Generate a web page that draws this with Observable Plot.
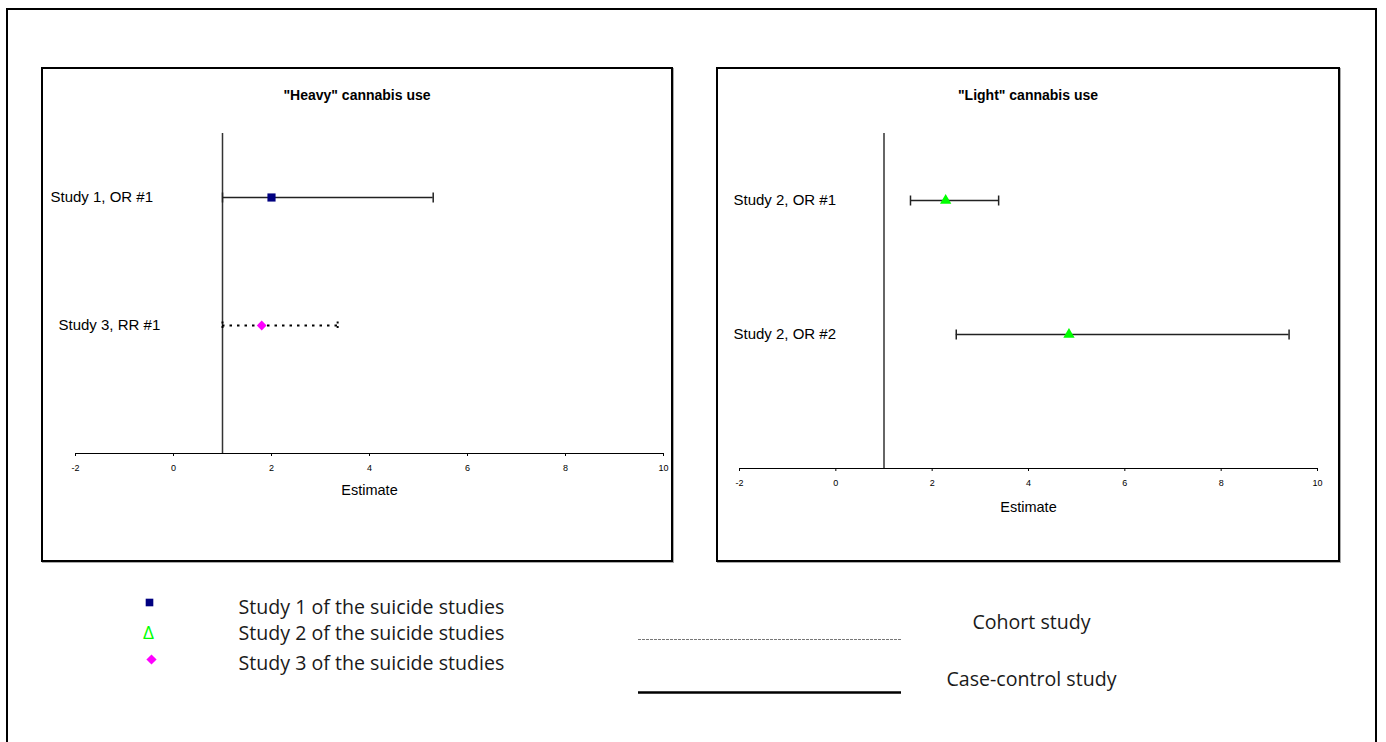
<!DOCTYPE html>
<html>
<head>
<meta charset="utf-8">
<script src="https://cdn.jsdelivr.net/npm/d3@7"></script>
<script src="https://cdn.jsdelivr.net/npm/@observablehq/plot@0.6"></script>
<style>
  body { margin: 0; background: #fff; }
  #page { position: relative; width: 1386px; height: 742px; overflow: hidden; font-family: "Liberation Sans", Arial, sans-serif; }
  #outer { position: absolute; left: 6px; top: 8px; width: 1367px; height: 800px; border: 2.5px solid #000; }
  .panel { position: absolute; top: 67px; height: 491px; border: 2px solid #000; box-shadow: 1px 1px 0 #aaa; background: #fff; }
  .panel svg { position: absolute; left: 0; top: 0; }
  .ptitle { position: absolute; left: 0; right: 0; top: 18px; text-align: center; font-weight: bold; font-size: 14px; line-height: 16px; color: #000; }
</style>
</head>
<body>
<div id="page">
  <div id="outer"></div>
  <div class="panel" id="heavy" style="left:41px; width:628px;"><div class="ptitle">"Heavy" cannabis use</div></div>
  <div class="panel" id="light" style="left:716px; width:620px;"><div class="ptitle">"Light" cannabis use</div></div>
  <div id="legend"></div>
</div>
<script>
// Heavy cannabis use: estimates with confidence limits
const heavyLabels = ["Study 1, OR #1", "Study 3, RR #1"];
const heavyStudy  = ["Study 1", "Study 3"];
const heavyDesign = ["Case-control", "Cohort"];
const heavyRow    = [4, 2];
const heavyEst    = [2.0, 1.8];
const heavyLo     = [1.0, 1.0];
const heavyHi     = [5.3, 3.35];

// Light cannabis use
const lightLabels = ["Study 2, OR #1", "Study 2, OR #2"];
const lightStudy  = ["Study 2", "Study 2"];
const lightDesign = ["Case-control", "Case-control"];
const lightRow    = [4, 2];
const lightEst    = [2.28, 4.84];
const lightLo     = [1.55, 2.5];
const lightHi     = [3.38, 9.41];

// Axis and reference line
const xTicks = [-2, 0, 2, 4, 6, 8, 10];
const xDomain = [-2, 10];
const yDomain = [0, 5];
const nullValue = 1;

// Legend entries
const studyNames = ["Study 1", "Study 2", "Study 3"];
const studyTexts = ["Study 1 of the suicide studies", "Study 2 of the suicide studies", "Study 3 of the suicide studies"];
const designNames = ["Cohort study", "Case-control study"];

const studyColor  = {"Study 1": "#000080", "Study 2": "#00ff00", "Study 3": "#ff00ff"};
const studySymbol = {"Study 1": "square", "Study 2": "triangle", "Study 3": "diamond2"};
const studyRadius = {"Study 1": 4.6, "Study 2": 4.2, "Study 3": 4.4};

function table(labels, study, design, row, est, lo, hi) {
  return labels.map((label, i) => ({label, study: study[i], design: design[i], row: row[i], est: est[i], lo: lo[i], hi: hi[i]}));
}
const heavy = table(heavyLabels, heavyStudy, heavyDesign, heavyRow, heavyEst, heavyLo, heavyHi);
const light = table(lightLabels, lightStudy, lightDesign, lightRow, lightEst, lightLo, lightHi);

// vertical end cap for the interval lines
const capSymbol = {
  draw(context, size) {
    const h = Math.sqrt(size / Math.PI);
    context.moveTo(0, -h);
    context.lineTo(0, h);
  }
};

function intervalMarks(rows) {
  const marks = [];
  for (const d of rows) {
    const cohort = d.design === "Cohort";
    const line = cohort
      ? {stroke: "#000", strokeWidth: 2, strokeDasharray: "2.5,5"}
      : {stroke: "#222", strokeWidth: 1.5};
    marks.push(Plot.ruleY([d], {y: "row", x1: "lo", x2: "hi", ...line}));
    marks.push(Plot.dot([d], {x: "lo", y: "row", symbol: capSymbol, r: cohort ? 4 : 5, fill: "none", ...line, strokeDasharray: cohort ? "2,2.5" : null}));
    marks.push(Plot.dot([d], {x: "hi", y: "row", symbol: capSymbol, r: cohort ? 4 : 5, fill: "none", ...line, strokeDasharray: cohort ? "2,2.5" : null}));
  }
  for (const d of rows) {
    marks.push(Plot.dot([d], {x: "est", y: "row", symbol: studySymbol[d.study], r: studyRadius[d.study], fill: studyColor[d.study], stroke: "none"}));
  }
  return marks;
}

function forestPanel(rows, opts) {
  return Plot.plot({
    width: opts.width,
    height: 491,
    marginLeft: opts.marginLeft,
    marginRight: opts.marginRight,
    marginTop: 64,
    marginBottom: opts.marginBottom,
    style: {fontFamily: '"Liberation Sans", Arial, sans-serif', fontSize: "9px", color: "#000", background: "transparent", overflow: "visible"},
    x: {domain: xDomain},
    y: {domain: yDomain, axis: null},
    marks: [
      Plot.ruleY([yDomain[0]], {x1: xDomain[0], x2: xDomain[1], stroke: "#000", strokeWidth: 1}),
      Plot.axisX({ticks: xTicks, tickSize: 3, tickPadding: 8, tickFormat: d => String(d), fontSize: 9, label: null}),
      Plot.text(["Estimate"], {frameAnchor: "bottom", dy: opts.labelDy, fontSize: 14.5, lineAnchor: "middle"}),
      Plot.ruleX([nullValue], {y1: yDomain[0], y2: yDomain[1], stroke: "#333", strokeWidth: 1.5}),
      ...rows.map((d, i) => Plot.text([d], {y: "row", text: "label", frameAnchor: "left", textAnchor: "start", dx: opts.labelDx[i], fontSize: 15})),
      ...intervalMarks(rows)
    ]
  });
}

document.getElementById("heavy").append(forestPanel(heavy, {width: 628, marginLeft: 32, marginRight: 8, marginBottom: 107, labelDy: 37, labelDx: [-25, -17]}));
document.getElementById("light").append(forestPanel(light, {width: 620, marginLeft: 21, marginRight: 21, marginBottom: 92, labelDy: 39, labelDx: [-6, -6]}));

// Legend: study markers and study-design line styles, placed in page pixels
const legend = Plot.plot({
  width: 1386, height: 742,
  margin: 0,
  x: {type: "identity", axis: null},
  y: {type: "identity", axis: null},
  style: {position: "absolute", left: "0px", top: "0px", background: "transparent", fontFamily: '"Open Sans", sans-serif', color: "#1a1a1a"},
  marks: [
    Plot.dot([studyNames[0]], {x: () => 149, y: () => 602, symbol: "square", r: 4.3, fill: studyColor["Study 1"], stroke: "none"}),
    Plot.text([studyNames[1]], {x: () => 148, y: () => 632, text: () => "Δ", fill: studyColor["Study 2"], fontSize: 19, lineAnchor: "middle"}),
    Plot.dot([studyNames[2]], {x: () => 151, y: () => 659, symbol: "diamond2", r: 4.6, fill: studyColor["Study 3"], stroke: "none"}),
    Plot.text(studyTexts, {x: () => 238, y: (d, i) => [607, 633, 663][i], text: d => d, textAnchor: "start", lineAnchor: "middle", fontSize: 19.6}),
    Plot.ruleY([designNames[0]], {y: () => 639, x1: () => 638, x2: () => 901, stroke: "#777", strokeWidth: 1, strokeDasharray: "3,1"}),
    Plot.ruleY([designNames[1]], {y: () => 692, x1: () => 638, x2: () => 901, stroke: "#000", strokeWidth: 2.5}),
    Plot.text(designNames, {x: () => 1031, y: (d, i) => [622, 679][i], text: d => d, textAnchor: "middle", lineAnchor: "middle", fontSize: 19.6})
  ]
});
document.getElementById("legend").append(legend);
</script>
</body>
</html>
